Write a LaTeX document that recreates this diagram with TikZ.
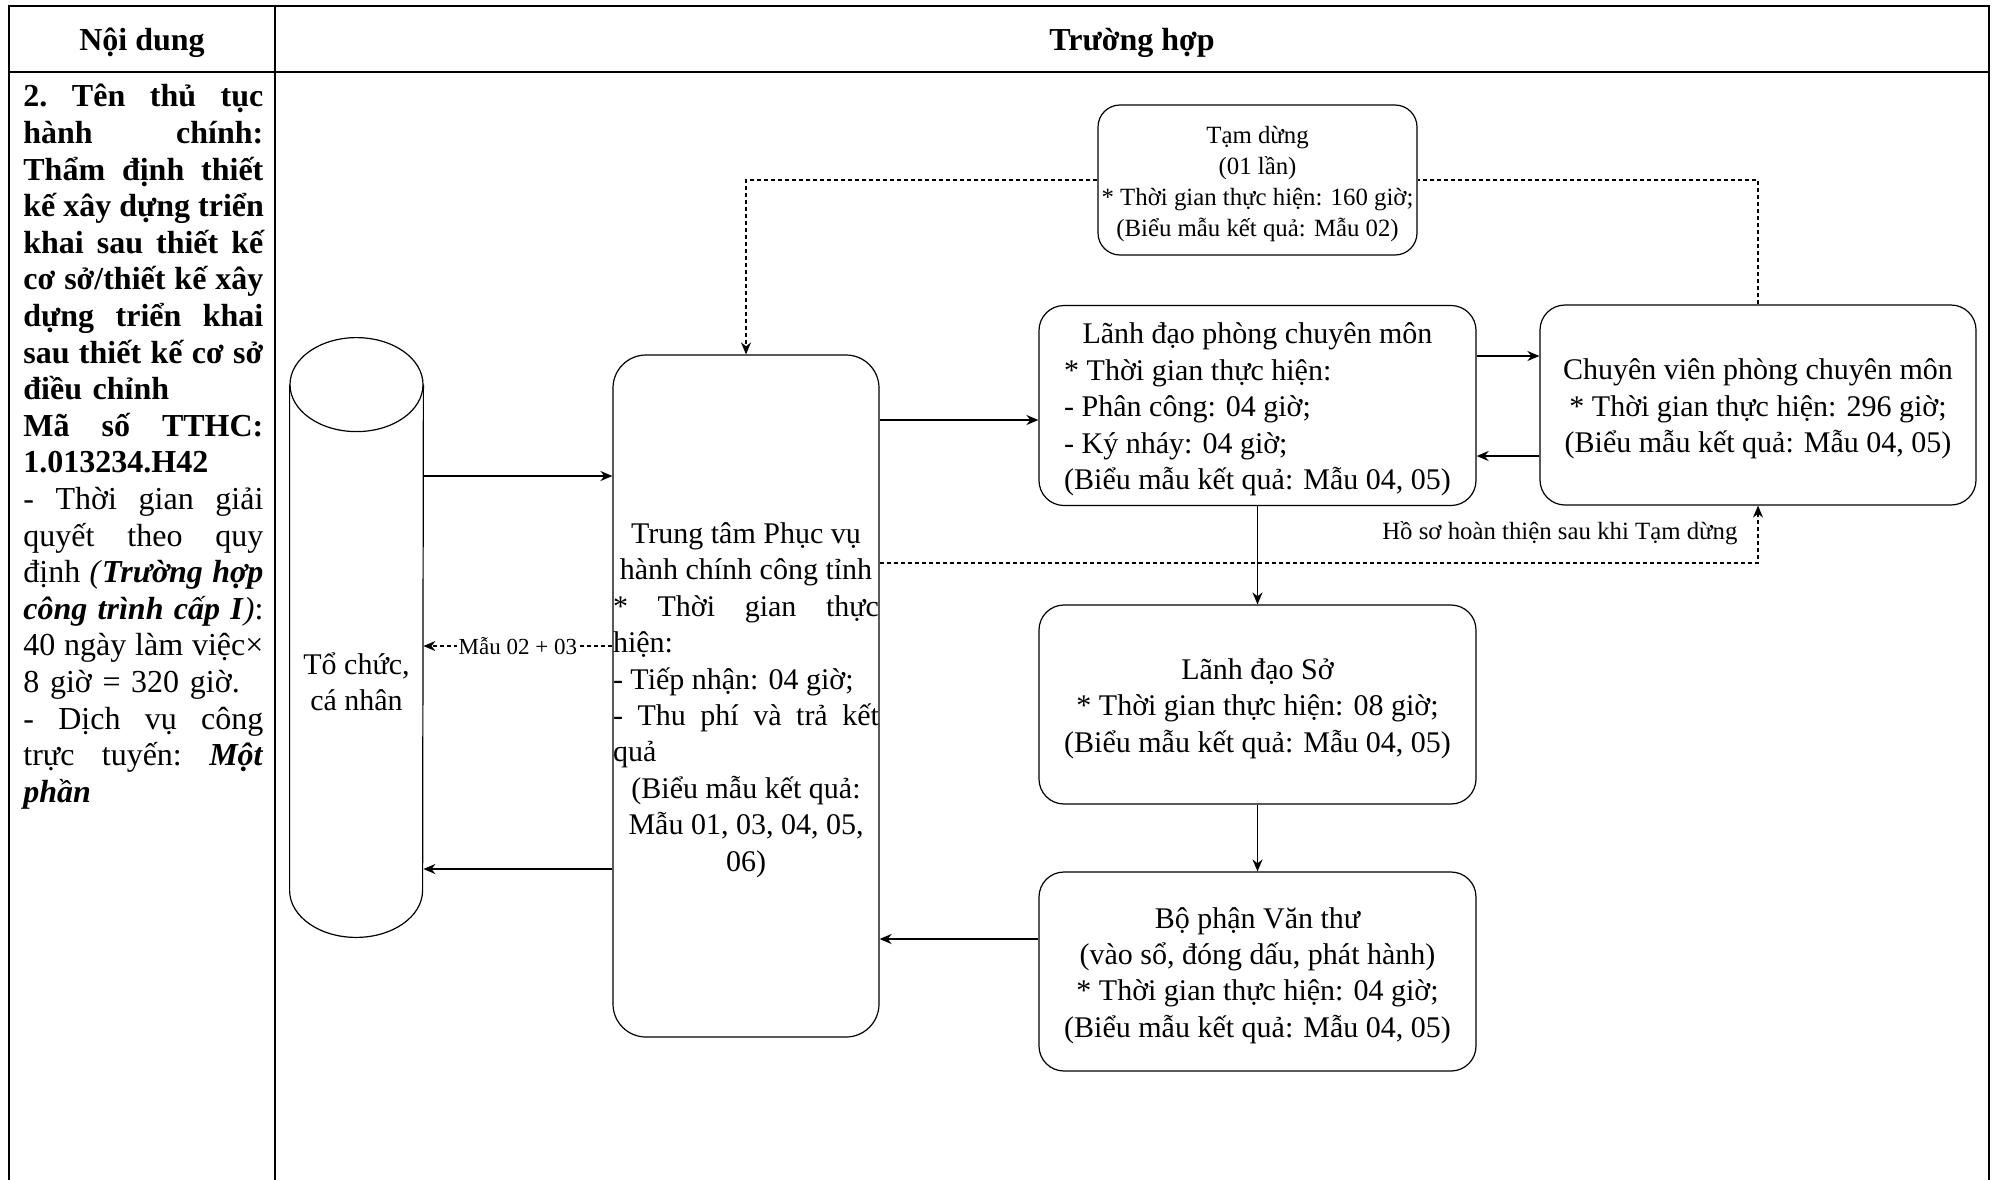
\documentclass[tikz,border=0pt]{standalone}
\usepackage{fontspec}
\setmainfont{Liberation Serif}
\usetikzlibrary{arrows.meta,calc}
\newcommand\lnC[1]{\makebox[\linewidth][c]{#1}}
\newcommand\lnL[1]{\makebox[\linewidth][l]{#1}}
\newcommand\lnS[1]{\makebox[\linewidth][s]{\spaceskip=\fontdimen2\font plus 1fil\relax\xspaceskip=\spaceskip #1}}
\newcommand\dgfont{\fontsize{15}{18.2}\selectfont}
\newcommand\smfont{\fontsize{12.4}{15.4}\selectfont}
\newcommand\bxtext[2]{\raisebox{-2pt}[\height][\depth]{\parbox[c]{#1}{\centering #2}}}
\begin{document}
\begin{tikzpicture}[x=0.5pt,y=-0.5pt,
  tbl/.style={line width=1.1pt, line cap=rect},
  box/.style={draw, line width=0.6pt, rounded corners=12.5pt, align=center, inner sep=0pt, font=\dgfont},
  arr/.style={line width=0.9pt, -{Stealth[length=6pt,width=5pt]}},
  dsh/.style={line width=0.6pt, dash pattern=on 2pt off 1.5pt},
  dtip/.style={-{Stealth[length=6pt,width=5pt]}},
  hdr/.style={font=\fontsize{16}{18}\selectfont\bfseries, inner sep=0pt}]
\useasboundingbox (0,0) rectangle (1995,1179);
% table
\draw[tbl] (9,1179) -- (9,6) -- (1989,6) -- (1989,1179);
\draw[tbl] (9,72) -- (1989,72);
\draw[tbl] (275,6) -- (275,1179);
\node[hdr] (h1) at (142,43) {Nội dung};
\node[hdr] (h2) at (1132,43) {Trường hợp};
% description column
\node[anchor=north west, inner sep=0pt, text width=120pt, align=left,
      font=\fontsize{16}{18.3}\selectfont] (desc) at (23,84) {%
{\bfseries\lnS{2. Tên thủ tục}\\
\lnS{hành chính:}\\
\lnS{Thẩm định thiết}\\
\lnS{kế xây dựng triển}\\
\lnS{khai sau thiết kế}\\
\lnS{cơ sở/thiết kế xây}\\
\lnS{dựng triển khai}\\
\lnS{sau thiết kế cơ sở}\\
\lnL{điều chỉnh}\\
\lnS{Mã số TTHC:}\\
\lnL{1.013234.H42}}\\
\lnS{- Thời gian giải}\\
\lnS{quyết theo quy}\\
\lnS{định \textit{(}\textbf{\textit{Trường hợp}}}\\
\lnS{\textbf{\textit{công trình cấp I}}\textit{)}:}\\
\lnS{40 ngày làm việc×}\\
\lnL{8 giờ = 320 giờ.}\\
\lnS{- Dịch vụ công}\\
\lnS{trực tuyến: \textbf{\textit{Một}}}\\
\lnL{\textbf{\textit{phần}}}};
% cylinder
\node[inner sep=0pt, minimum width=66.5pt, minimum height=299.5pt] (cyl) at (356.5,637.5) {};
\draw[line width=0.6pt] ([yshift=-23.5pt]cyl.north) ellipse [x radius=33.25pt, y radius=23.5pt];
\draw[line width=0.6pt] ([yshift=-23.5pt]cyl.north west) -- ([yshift=23.5pt]cyl.south west)
  arc[start angle=180, end angle=360, x radius=33.25pt, y radius=23.5pt] -- ([yshift=-23.5pt]cyl.north east);
\node[align=center, font=\dgfont, inner sep=0pt] (cyltxt) at (356.5,682) {Tổ chức,\\cá nhân};
% boxes
\node[box, rounded corners=16.5pt, minimum width=133pt, minimum height=341pt] (tt) at (746,696) {%
\bxtext{133pt}{%
\lnC{Trung tâm Phục vụ}\\
\lnC{hành chính công tỉnh}\\
\lnS{* Thời gian thực}\\
\lnL{hiện:}\\
\lnL{- Tiếp nhận: 04 giờ;}\\
\lnS{- Thu phí và trả kết}\\
\lnL{quả}\\
\lnC{(Biểu mẫu kết quả:}\\
\lnC{Mẫu 01, 03, 04, 05,}\\
\lnC{06)}}};
\node[box, rounded corners=11pt, minimum width=159.5pt, minimum height=75pt, font=\smfont] (td) at (1257.5,180)
  {\bxtext{159.5pt}{Tạm dừng\\(01 lần)\\{*} Thời gian thực hiện: 160 giờ;\\(Biểu mẫu kết quả: Mẫu 02)}};
\node[box, minimum width=218.5pt, minimum height=100pt] (ldp) at (1257.5,405.5)
  {\raisebox{-2pt}[\height][\depth]{\begin{tabular}{@{}l@{}}\multicolumn{1}{@{}c@{}}{Lãnh đạo phòng chuyên môn}\\
   {*} Thời gian thực hiện:\\ - Phân công: 04 giờ;\\ - Ký nháy: 04 giờ;\\ (Biểu mẫu kết quả: Mẫu 04, 05)\end{tabular}}};
\node[box, minimum width=218pt, minimum height=100pt] (cv) at (1758,405)
  {\bxtext{218pt}{Chuyên viên phòng chuyên môn\\{*} Thời gian thực hiện: 296 giờ;\\(Biểu mẫu kết quả: Mẫu 04, 05)}};
\node[box, minimum width=218.5pt, minimum height=99.5pt] (lds) at (1257.5,704.5)
  {\bxtext{218.5pt}{Lãnh đạo Sở\\{*} Thời gian thực hiện: 08 giờ;\\(Biểu mẫu kết quả: Mẫu 04, 05)}};
\node[box, minimum width=218.5pt, minimum height=99.5pt] (vt) at (1257.5,971.5)
  {\bxtext{218.5pt}{Bộ phận Văn thư\\(vào sổ, đóng dấu, phát hành)\\{*} Thời gian thực hiện: 04 giờ;\\(Biểu mẫu kết quả: Mẫu 04, 05)}};
% connector levels
\coordinate (yA) at (0,476);
\coordinate (yB) at (0,420);
\coordinate (yC) at (0,356);
\coordinate (yD) at (0,869);
\coordinate (yE) at (0,456);
\coordinate (yF) at (0,939);
\coordinate (yG) at (0,563);
\coordinate (yM) at (0,646);
% connectors
\draw[arr] (cyl.east |- yA) -- (tt.west |- yA);
\draw[arr] (tt.west |- yD) -- (cyl.east |- yD);
\draw[dsh,dtip] (tt.west |- yM) -- node[fill=white, inner sep=1pt, font=\fontsize{11.5}{13}\selectfont] (m23) {Mẫu 02 + 03} (cyl.east |- yM);
\draw[arr] (tt.east |- yB) -- (ldp.west |- yB);
\draw[arr] (ldp.east |- yC) -- (cv.west |- yC);
\draw[arr] (cv.west |- yE) -- (ldp.east |- yE);
\draw[arr] (ldp.south) -- (lds.north);
\draw[arr] (lds.south) -- (vt.north);
\draw[arr] (vt.west |- yF) -- (tt.east |- yF);
\draw[dsh] (cv.north) |- (td.east);
\draw[dsh,dtip] (td.west) -| (tt.north);
\draw[dsh,dtip] (tt.east |- yG) -| (cv.south)
  node[pos=0.5, anchor=east, xshift=-10pt, yshift=15pt, inner sep=0pt, font=\smfont] (hs) {Hồ sơ hoàn thiện sau khi Tạm dừng};
\end{tikzpicture}
\end{document}
